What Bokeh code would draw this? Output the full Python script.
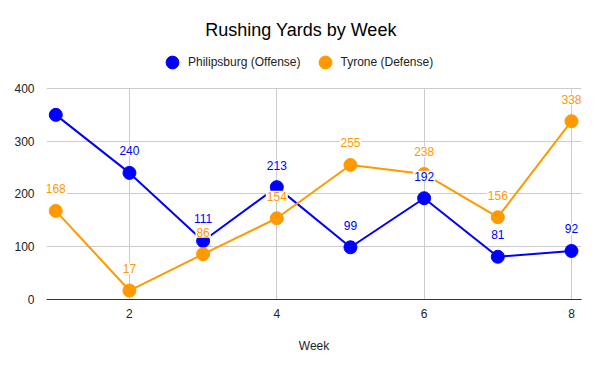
from bokeh.plotting import figure
from bokeh.models import Range1d, Legend, LegendItem, ColumnDataSource, FixedTicker, Label
from bokeh.core.properties import value
from bokeh.embed import file_html
from bokeh.resources import INLINE

weeks = [1, 2, 3, 4, 5, 6, 7, 8]
offense = [350, 240, 111, 213, 99, 192, 81, 92]
defense = [168, 17, 86, 154, 255, 238, 156, 338]
offense_labels = ["", "240", "111", "213", "99", "192", "81", "92"]
defense_labels = ["168", "17", "86", "154", "255", "238", "156", "338"]
x_ticks = [2, 4, 6, 8]
y_ticks = [0, 100, 200, 300, 400]

BLUE = "#0000ff"
ORANGE = "#ff9900"
FONT = "Liberation Sans"

# frame spans the full height; the header area sits above y=400
Y_TOP = 566.8
p = figure(width=600, height=371, output_backend="svg", toolbar_location=None,
           x_range=Range1d(0.874, 8.136), y_range=Range1d(0, Y_TOP),
           min_border_left=46, min_border_right=19, min_border_top=0, min_border_bottom=72)
p.outline_line_color = None
p.background_fill_color = "white"

p.xaxis.ticker = FixedTicker(ticks=x_ticks)
p.yaxis.ticker = FixedTicker(ticks=y_ticks)
for ax in (p.xaxis, p.yaxis):
    ax.major_tick_line_color = None
    ax.minor_tick_line_color = None
    ax.major_label_text_font = FONT
    ax.major_label_text_font_size = "12px"
    ax.major_label_text_color = "#222222"
p.yaxis.axis_line_color = None
p.yaxis.major_label_standoff = 6
p.xaxis.axis_line_color = "#333333"
p.xaxis.axis_line_width = 1
p.xaxis.major_label_standoff = 3
p.xaxis.axis_label = "Week"
p.xaxis.axis_label_text_font = FONT
p.xaxis.axis_label_text_font_size = "12px"
p.xaxis.axis_label_text_font_style = "normal"
p.xaxis.axis_label_text_color = "#222222"
p.xaxis.axis_label_standoff = 18
p.grid.grid_line_color = "#cccccc"
p.grid.grid_line_width = 1
p.xgrid.cross_bounds = (0, 400)

src_o = ColumnDataSource(dict(x=weeks, y=offense, t=offense_labels))
src_d = ColumnDataSource(dict(x=weeks, y=defense, t=defense_labels))

p.line("x", "y", source=src_o, color=BLUE, line_width=2)
ro = p.scatter("x", "y", source=src_o, color=BLUE, size=13)
p.line("x", "y", source=src_d, color=ORANGE, line_width=2)
rd = p.scatter("x", "y", source=src_d, color=ORANGE, size=13)

p.text("x", "y", text="t", source=src_o, text_color=BLUE, text_font=value(FONT),
       text_font_size="12px", text_align="center", text_baseline="middle", y_offset=-22,
       background_fill_color="white", padding=1)
p.text("x", "y", text="t", source=src_d, text_color=ORANGE, text_font=value(FONT),
       text_font_size="12px", text_align="center", text_baseline="middle", y_offset=-22,
       background_fill_color="white", padding=1)

legend = Legend(items=[LegendItem(label="Philipsburg (Offense)", renderers=[ro]),
                       LegendItem(label="Tyrone (Defense)", renderers=[rd])],
                orientation="horizontal", location=(110, 221),
                border_line_alpha=0, background_fill_alpha=0,
                label_text_font=FONT, label_text_font_size="12px", label_text_color="#222222",
                glyph_width=32, glyph_height=32, label_standoff=-2, spacing=8,
                padding=0, margin=0)
p.add_layout(legend, "center")

title = Label(x=(0.874 + 8.136) / 2 - 13 / 73.67, y=510, text="Rushing Yards by Week",
              text_font=FONT, text_font_size="18px", text_color="#000000",
              text_align="center", text_baseline="middle")
p.add_layout(title)

open("out.html", "w").write(file_html(p, INLINE))
